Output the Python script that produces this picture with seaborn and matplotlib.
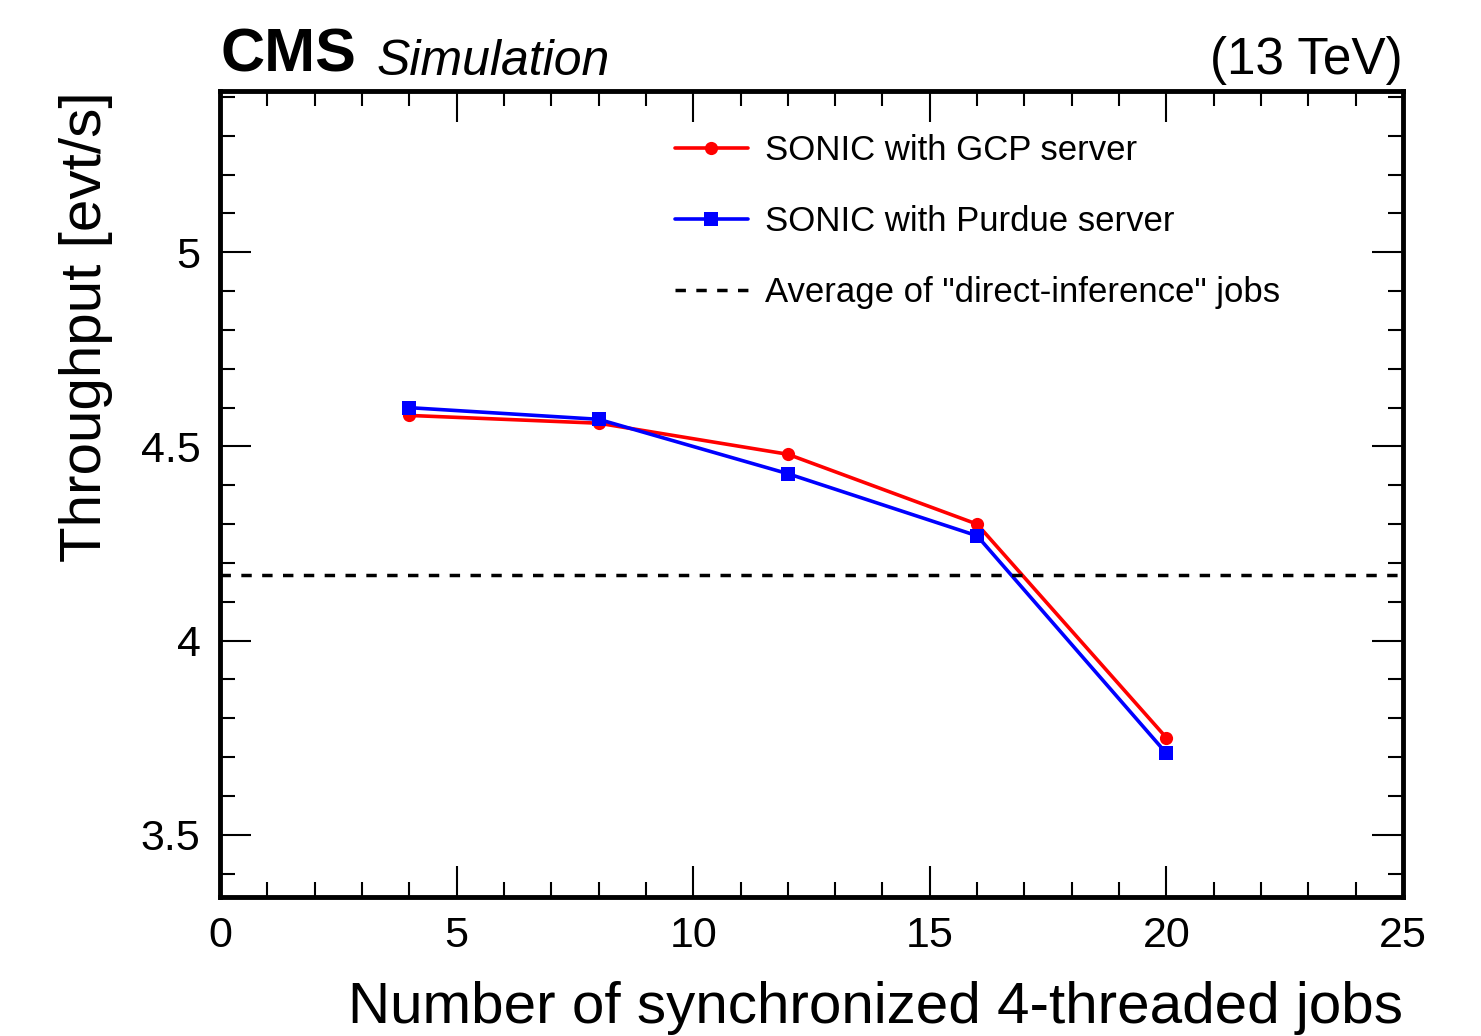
import matplotlib
matplotlib.use("Agg")
import matplotlib.pyplot as plt
import seaborn as sns
import pandas as pd
from matplotlib.ticker import MultipleLocator

jobs = [4, 8, 12, 16, 20]
gcp = [4.58, 4.56, 4.48, 4.30, 3.75]
purdue = [4.60, 4.57, 4.43, 4.27, 3.71]
direct_avg = 4.17
labels = ["SONIC with GCP server", "SONIC with Purdue server",
          'Average of "direct-inference" jobs']

sns.set_theme(style="ticks")
plt.rcParams['font.family'] = ['Liberation Sans', 'DejaVu Sans']
plt.rcParams['text.color'] = 'black'
plt.rcParams['axes.labelcolor'] = 'black'
plt.rcParams['xtick.color'] = 'black'
plt.rcParams['ytick.color'] = 'black'

fig = plt.figure(figsize=(14.81, 10.36), dpi=100)
ax = fig.add_axes([0.1486, 0.1342, 0.7987, 0.7778])

df_g = pd.DataFrame({"x": jobs, "y": gcp})
df_p = pd.DataFrame({"x": jobs, "y": purdue})
sns.lineplot(data=df_g, x="x", y="y", ax=ax, color="#ff0000", marker="o",
             markersize=9.5, markeredgewidth=0, linewidth=2.6, label=labels[0])
sns.lineplot(data=df_p, x="x", y="y", ax=ax, color="#0000ff", marker="s",
             markersize=10, markeredgewidth=0, linewidth=2.6, label=labels[1])
ax.axhline(direct_avg, color="black", linestyle=(0, (3, 3)), linewidth=2.5,
           label=labels[2])

ax.set_xlim(0, 25)
ax.set_ylim(3.34, 5.415)
ax.xaxis.set_minor_locator(MultipleLocator(1))
ax.yaxis.set_minor_locator(MultipleLocator(0.1))
ax.set_xticks([0, 5, 10, 15, 20, 25])
ax.set_xticklabels(["0", "5", "10", "15", "20", "25"])
ax.set_yticks([3.5, 4, 4.5, 5])
ax.set_yticklabels(["3.5", "4", "4.5", "5"])
ax.tick_params(which="both", direction="in", top=True, right=True, labelsize=31,
               color="black", labelcolor="black")
ax.tick_params(which="major", length=22, width=1.5, pad=14)
ax.tick_params(which="minor", length=11, width=1.5)
for s in ax.spines.values():
    s.set_linewidth(3.5)
    s.set_color("black")

ax.set_xlabel("Number of synchronized 4-threaded jobs", fontsize=42, loc="right",
              labelpad=18, color="black")
ax.set_ylabel("Throughput [evt/s]", fontsize=42, loc="top", labelpad=20, color="black")

leg = ax.legend(loc="upper left", bbox_to_anchor=(0.358, 0.986), frameon=False,
                fontsize=25, handlelength=2.1, labelspacing=1.1, handletextpad=0.5)
for t in leg.get_texts():
    t.set_color("black")

fig.text(0.1486, 0.918, "CMS", fontsize=44, fontweight="bold", ha="left", va="bottom")
fig.text(0.2545, 0.918, "Simulation", fontsize=36, fontstyle="italic", ha="left", va="bottom")
fig.text(0.9473, 0.918, "(13 TeV)", fontsize=37, ha="right", va="bottom")

fig.savefig("out.png", dpi=100, facecolor="white")
